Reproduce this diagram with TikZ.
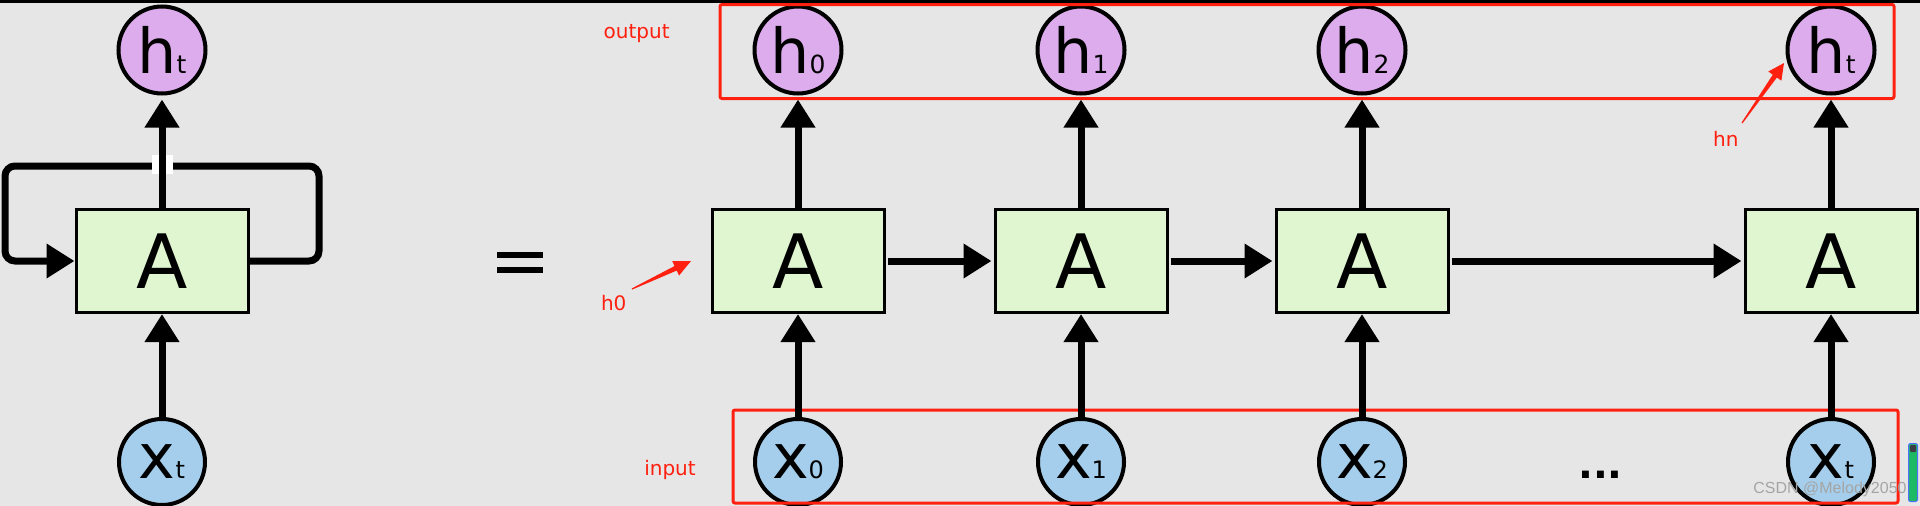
\documentclass[tikz,border=0pt]{standalone}
\usepackage{fontspec}
\setmainfont{DejaVu Sans}
\newfontfamily\wmfont{Liberation Sans}
\usetikzlibrary{arrows.meta,calc}
\definecolor{bgc}{RGB}{230,230,230}
\definecolor{hpurple}{RGB}{220,172,236}
\definecolor{xblue}{RGB}{164,206,236}
\definecolor{cellgreen}{RGB}{224,246,208}
\definecolor{annred}{RGB}{255,32,16}
\definecolor{wmgray}{RGB}{165,165,165}
\definecolor{barblue}{RGB}{80,110,255}
\definecolor{bargreen}{RGB}{30,185,100}
\definecolor{bardark}{RGB}{60,60,70}
\newcommand\hsym[1]{{\fontsize{62}{62}\selectfont h}{\fontsize{25}{25}\selectfont #1}}
\newcommand\xsym[1]{{\fontsize{62}{62}\selectfont x}{\fontsize{24}{24}\selectfont #1}}
\begin{document}
\begin{tikzpicture}[x=1pt,y=-1pt,
  hcirc/.style={circle, draw=black, line width=4pt, fill=hpurple, minimum size=87pt, inner sep=0pt},
  xcirc/.style={circle, draw=black, line width=4pt, fill=xblue, minimum size=86pt, inner sep=0pt},
  cell/.style={rectangle, draw=black, line width=3pt, fill=cellgreen, minimum width=172pt, minimum height=103pt, inner sep=0pt, font=\fontsize{75}{75}\selectfont},
  flowarrow/.style={line width=7pt, -{Triangle[length=28pt,width=33pt]}},
  redbox/.style={draw=annred, line width=3pt, rounded corners=2pt},
  ann/.style={text=annred, font=\fontsize{20}{24}\selectfont, inner sep=0pt, anchor=base},
  wm/.style={font=\wmfont\fontsize{16}{18}\selectfont, inner sep=0pt, anchor=base}
]
\useasboundingbox (0,0) rectangle (1920,506);
\fill[bgc] (0,0) rectangle (1920,506);
\fill[black] (0,0) rectangle (1920,3);

% ---- folded RNN ----
\node[cell] (L) at (162,261) {A};
\node[hcirc] (hL) at (162,50) {\hsym{t}};
\node[xcirc] (xL) at (162,462) {\xsym{t}};
\coordinate (loopR) at (319,166);
\coordinate (loopL) at (5,261);
\draw[flowarrow, rounded corners=10pt] (L.east) -| (loopR) -| (loopL) -- (L.west);
\fill[white] (152,155) rectangle (173,174);
\draw[flowarrow, shorten >=4pt] (L.north) -- (hL.south);
\draw[flowarrow] (xL.north) -- (L.south);

% ---- equals ----
\fill[black] (497,252) rectangle (543,258);
\fill[black] (497,267) rectangle (543,273);

% ---- unrolled RNN ----
\foreach \i/\cx/\s in {0/798/0,1/1081/1,2/1362/2,3/1831/t}{
  \node[cell] (A\i) at (\cx,261) {A};
  \node[hcirc] (h\i) at (\cx,50) {\hsym{\s}};
  \node[xcirc] (x\i) at (\cx,462) {\xsym{\s}};
}
\draw[redbox] (720,4.5) rectangle (1894,98.5);
\draw[redbox] (733,410) rectangle (1898,503);
\foreach \i in {0,1,2,3}{
  \draw[flowarrow, shorten >=4pt] (A\i.north) -- (h\i.south);
  \draw[flowarrow] (x\i.north) -- (A\i.south);
}
\draw[flowarrow, shorten <=2pt, shorten >=2pt] (A0.east) -- (A1.west);
\draw[flowarrow, shorten <=2pt, shorten >=2pt] (A1.east) -- (A2.west);
\draw[flowarrow, shorten <=2pt, shorten >=2pt] (A2.east) -- (A3.west);

\node[inner sep=0pt, anchor=base, font=\bfseries\fontsize{39}{39}\selectfont] (dots) at (1600.5,478) {...};

% ---- red annotations ----
\node[ann] (outlab) at (636.7,38.3) {output};
\node[ann] (inlab) at (670,475) {input};
\node[ann] (h0lab) at (613.7,310.7) {h0};
\node[ann] (hnlab) at (1725.8,146.7) {hn};

\coordinate (aT) at (632,289);
\coordinate (aP) at (691,261);
\coordinate (aB) at ($(aP)!17pt!(aT)$);
\fill[annred] ($(aT)!0.6pt!90:(aP)$) -- ($(aB)!2.5pt!90:(aP)$) -- ($(aB)!8pt!90:(aP)$) -- (aP)
  -- ($(aB)!8pt!-90:(aP)$) -- ($(aB)!2.5pt!-90:(aP)$) -- ($(aT)!0.6pt!-90:(aP)$) -- cycle;

\coordinate (bT) at (1742,123);
\coordinate (bP) at (1784,63);
\coordinate (bB) at ($(bP)!16pt!(bT)$);
\fill[annred] ($(bT)!0.6pt!90:(bP)$) -- ($(bB)!2.5pt!90:(bP)$) -- ($(bB)!8pt!90:(bP)$) -- (bP)
  -- ($(bB)!8pt!-90:(bP)$) -- ($(bB)!2.5pt!-90:(bP)$) -- ($(bT)!0.6pt!-90:(bP)$) -- cycle;

% ---- watermark and side bar ----
\node[wm, text=wmgray] (wm) at (1830,493) {CSDN @Melody2050};
\draw[draw=barblue, fill=bargreen, line width=1pt, rounded corners=2pt] (1908.5,443.5) rectangle (1917.5,501.5);
\fill[bardark, rounded corners=1pt] (1910,445) rectangle (1916,452);
\end{tikzpicture}
\end{document}
